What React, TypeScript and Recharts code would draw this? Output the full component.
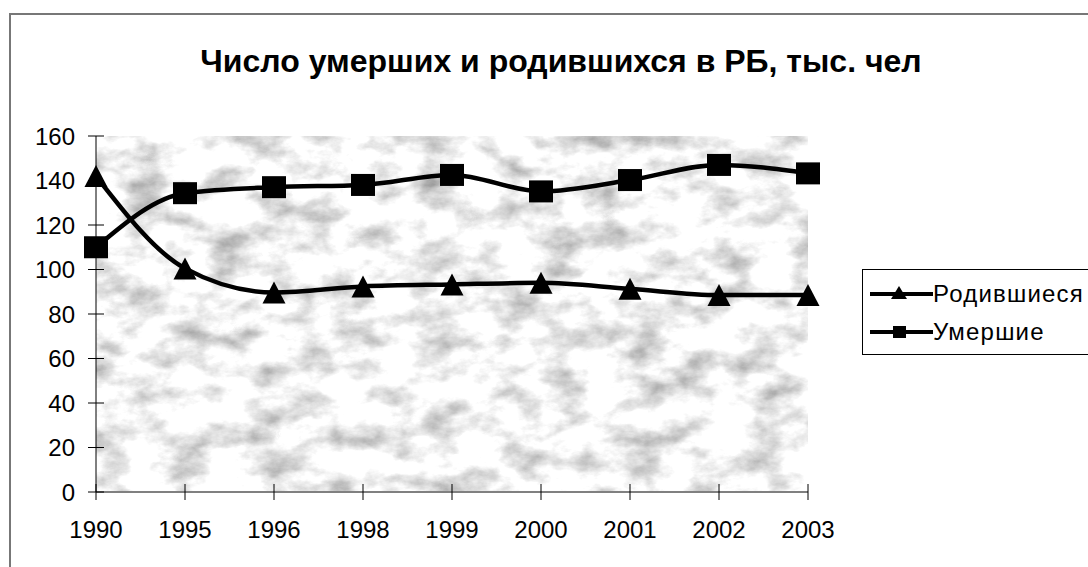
import React from 'react';
import { LineChart, Line, XAxis, YAxis, CartesianGrid } from 'recharts';

const years = ['1990', '1995', '1996', '1998', '1999', '2000', '2001', '2002', '2003'];
const born = [142, 100.5, 89.7, 92.4, 93.3, 94, 91.3, 88.5, 88.5];
const died = [110, 134.3, 137, 138, 142.5, 135.1, 140.2, 147, 143.2];
const yTicks = [0, 20, 40, 60, 80, 100, 120, 140, 160];
const seriesNames = ['Родившиеся', 'Умершие'];

const data = years.map((y, i) => ({ year: y, born: born[i], died: died[i] }));

const FONT = '"Liberation Sans", Arial, sans-serif';

const Triangle = (props: any) => {
  const { cx, cy } = props;
  if (cx == null || cy == null) return null;
  const w = 23, h = 22;
  return <path d={`M${cx},${cy - h / 2} L${cx + w / 2},${cy + h / 2} L${cx - w / 2},${cy + h / 2} Z`} fill="#000" />;
};

const Square = (props: any) => {
  const { cx, cy } = props;
  if (cx == null || cy == null) return null;
  return <rect x={cx - 12} y={cy - 11} width={24} height={22} fill="#000" />;
};

const XTick = (props: any) => {
  const { x, y, payload } = props;
  return (
    <g>
      <line x1={x} x2={x} y1={y - 8} y2={y + 8} stroke="#000" strokeWidth={1} />
      <text x={x} y={y + 46} textAnchor="middle" fontFamily={FONT} fontSize={24} fill="#000">{payload.value}</text>
    </g>
  );
};

const YTick = (props: any) => {
  const { x, y, payload } = props;
  return (
    <g>
      <line x1={x - 8} x2={x + 8} y1={y} y2={y} stroke="#000" strokeWidth={1} />
      <text x={x - 21} y={y} textAnchor="end" dominantBaseline="central" fontFamily={FONT} fontSize={24} fill="#000">{payload.value}</text>
    </g>
  );
};

const LegendBox = () => {
  const kinds = ['tri', 'sq'];
  return (
    <div style={{ position: 'absolute', left: 862, top: 269, border: '1px solid #000', background: '#fff', width: 240, height: 86, boxSizing: 'border-box', paddingTop: 5 }}>
      {seriesNames.map((name, i) => (
        <div key={name} style={{ display: 'flex', alignItems: 'center', height: 38 }}>
          <svg width={70} height={24} style={{ display: 'block' }}>
            <line x1={7} x2={70} y1={12} y2={12} stroke="#000" strokeWidth={4} />
            {kinds[i] === 'tri' ? (
              <path d="M36,4 L44,17 L28,17 Z" fill="#000" />
            ) : (
              <rect x={30} y={6} width={13} height={12} fill="#000" />
            )}
          </svg>
          <span style={{ fontFamily: FONT, fontSize: 24, letterSpacing: 1.2, color: '#000', lineHeight: '24px' }}>{name}</span>
        </div>
      ))}
    </div>
  );
};

export default function App() {
  return (
    <div style={{ position: 'fixed', left: 0, top: 0, width: 1088, height: 567, overflow: 'hidden', background: '#fff' }}>
      <div style={{ position: 'absolute', left: 9, top: 13, width: 1200, height: 700, borderLeft: '2px solid #777', borderTop: '2px solid #777' }} />
      <div style={{ position: 'absolute', left: 0, top: 0, width: 1122, textAlign: 'center', fontFamily: FONT, fontWeight: 'bold', fontSize: 32, lineHeight: '32px', paddingTop: 45 }}>
        Число умерших и родившихся в РБ, тыс. чел
      </div>
      <div style={{ position: 'absolute', left: 0, top: 0 }}>
        <LineChart width={1088} height={567} data={data} margin={{ top: 136, right: 280, bottom: 0, left: 0 }}>
          <defs>
            <filter id="marbleF" x="0" y="0" width="1" height="1" filterUnits="objectBoundingBox" colorInterpolationFilters="sRGB">
              <feTurbulence type="fractalNoise" baseFrequency="0.024 0.04" numOctaves={5} seed={4} result="n" />
              <feColorMatrix type="matrix" values="0.75 0 0 0 0.58  0.75 0 0 0 0.58  0.75 0 0 0 0.58  0 0 0 0 1" />
            </filter>
            <pattern id="marbleP" patternUnits="userSpaceOnUse" x="0" y="0" width="1088" height="567">
              <rect x="0" y="0" width="1088" height="567" filter="url(#marbleF)" />
            </pattern>
          </defs>
          <CartesianGrid fill="url(#marbleP)" stroke="none" horizontal={false} vertical={false} />
          <XAxis
            dataKey="year"
            height={75}
            padding={{ left: 0, right: 0 }}
            tickLine={false}
            tickSize={0}
            tickMargin={0}
            axisLine={{ stroke: '#808080', strokeWidth: 2 }}
            tick={<XTick />}
            interval={0}
          />
          <YAxis
            width={96}
            domain={[0, 160]}
            ticks={yTicks}
            tickLine={false}
            tickSize={0}
            tickMargin={0}
            axisLine={{ stroke: '#000', strokeWidth: 1 }}
            tick={<YTick />}
            interval={0}
          />
          <Line type="monotone" dataKey="born" name={seriesNames[0]} stroke="#000" strokeWidth={4.5} dot={<Triangle />} isAnimationActive={false} />
          <Line type="monotone" dataKey="died" name={seriesNames[1]} stroke="#000" strokeWidth={4.5} dot={<Square />} isAnimationActive={false} />
        </LineChart>
      </div>
      <LegendBox />
    </div>
  );
}
